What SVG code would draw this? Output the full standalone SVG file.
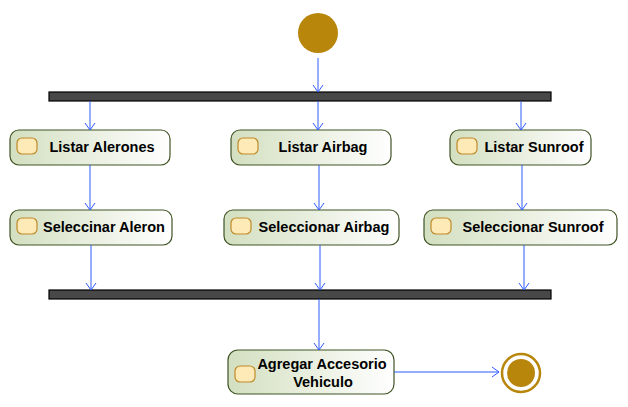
<svg xmlns="http://www.w3.org/2000/svg" width="628" height="407" viewBox="0 0 628 407">
<defs>
<linearGradient id="g" x1="0" y1="0" x2="1" y2="0">
<stop offset="0" stop-color="#d3dfc0"/>
<stop offset="1" stop-color="#ffffff"/>
</linearGradient>
<marker id="a" markerWidth="12" markerHeight="12" refX="10" refY="6" orient="auto" markerUnits="userSpaceOnUse">
<path d="M3,1 L10,6 L3,11" fill="none" stroke="#2f5bff" stroke-width="1"/>
</marker>
<style>
.n{fill:url(#g);stroke:#3f5424;stroke-width:1.2}
.i{fill:#fdeab6;stroke:#c08a2a;stroke-width:1.2}
.t{font-family:"Liberation Sans",Arial,sans-serif;font-weight:bold;font-size:14.5px;fill:#000;text-anchor:middle}
.e{fill:none;stroke:#2f5bff;stroke-width:1;marker-end:url(#a)}
.bar{fill:#484848;stroke:#000;stroke-width:1.2}
</style>
</defs>
<g id="start"><circle cx="318" cy="33" r="20" fill="#b8860b"/></g>
<g id="fork"><rect class="bar" x="49" y="92" width="502" height="9"/></g>
<g id="join"><rect class="bar" x="49" y="290" width="502" height="9"/></g>
<g id="n1"><rect class="n" x="10" y="130" width="160" height="35" rx="9"/><rect class="i" x="17" y="138" width="20" height="16" rx="5"/><text class="t" x="102" y="152">Listar Alerones</text></g>
<g id="n2"><rect class="n" x="231" y="130" width="160" height="35" rx="9"/><rect class="i" x="238" y="138" width="20" height="16" rx="5"/><text class="t" x="323" y="152">Listar Airbag</text></g>
<g id="n3"><rect class="n" x="450" y="130" width="141" height="35" rx="9"/><rect class="i" x="457" y="138" width="20" height="16" rx="5"/><text class="t" x="534" y="152">Listar Sunroof</text></g>
<g id="n4"><rect class="n" x="10" y="210" width="162" height="35" rx="9"/><rect class="i" x="17" y="218" width="20" height="16" rx="5"/><text class="t" x="104" y="232">Seleccinar Aleron</text></g>
<g id="n5"><rect class="n" x="224" y="210" width="175" height="35" rx="9"/><rect class="i" x="231" y="218" width="20" height="16" rx="5"/><text class="t" x="324" y="232">Seleccionar Airbag</text></g>
<g id="n6"><rect class="n" x="424" y="210" width="193" height="35" rx="9"/><rect class="i" x="431" y="218" width="20" height="16" rx="5"/><text class="t" x="533" y="232">Seleccionar Sunroof</text></g>
<g id="n7"><rect class="n" x="228" y="350" width="166" height="44" rx="10"/><rect class="i" x="235" y="366" width="20" height="16" rx="5"/><text class="t" x="322" y="369">Agregar Accesorio</text><text class="t" x="323" y="387">Vehiculo</text></g>
<g id="end"><circle cx="521" cy="373" r="19" fill="#fff" stroke="#b8860b" stroke-width="2.5"/><circle cx="521" cy="373" r="14" fill="#b8860b"/></g>
<g id="connectors">
<path class="e" d="M318,58 V92"/>
<path class="e" d="M90,101 V130"/>
<path class="e" d="M318,101 V130"/>
<path class="e" d="M521,101 V130"/>
<path class="e" d="M90,165 V210"/>
<path class="e" d="M319,165 V210"/>
<path class="e" d="M522,165 V210"/>
<path class="e" d="M91,245 V290"/>
<path class="e" d="M320,245 V290"/>
<path class="e" d="M524,245 V290"/>
<path class="e" d="M319,299 V350"/>
<path class="e" d="M394,372 H499"/>
</g>
</svg>
